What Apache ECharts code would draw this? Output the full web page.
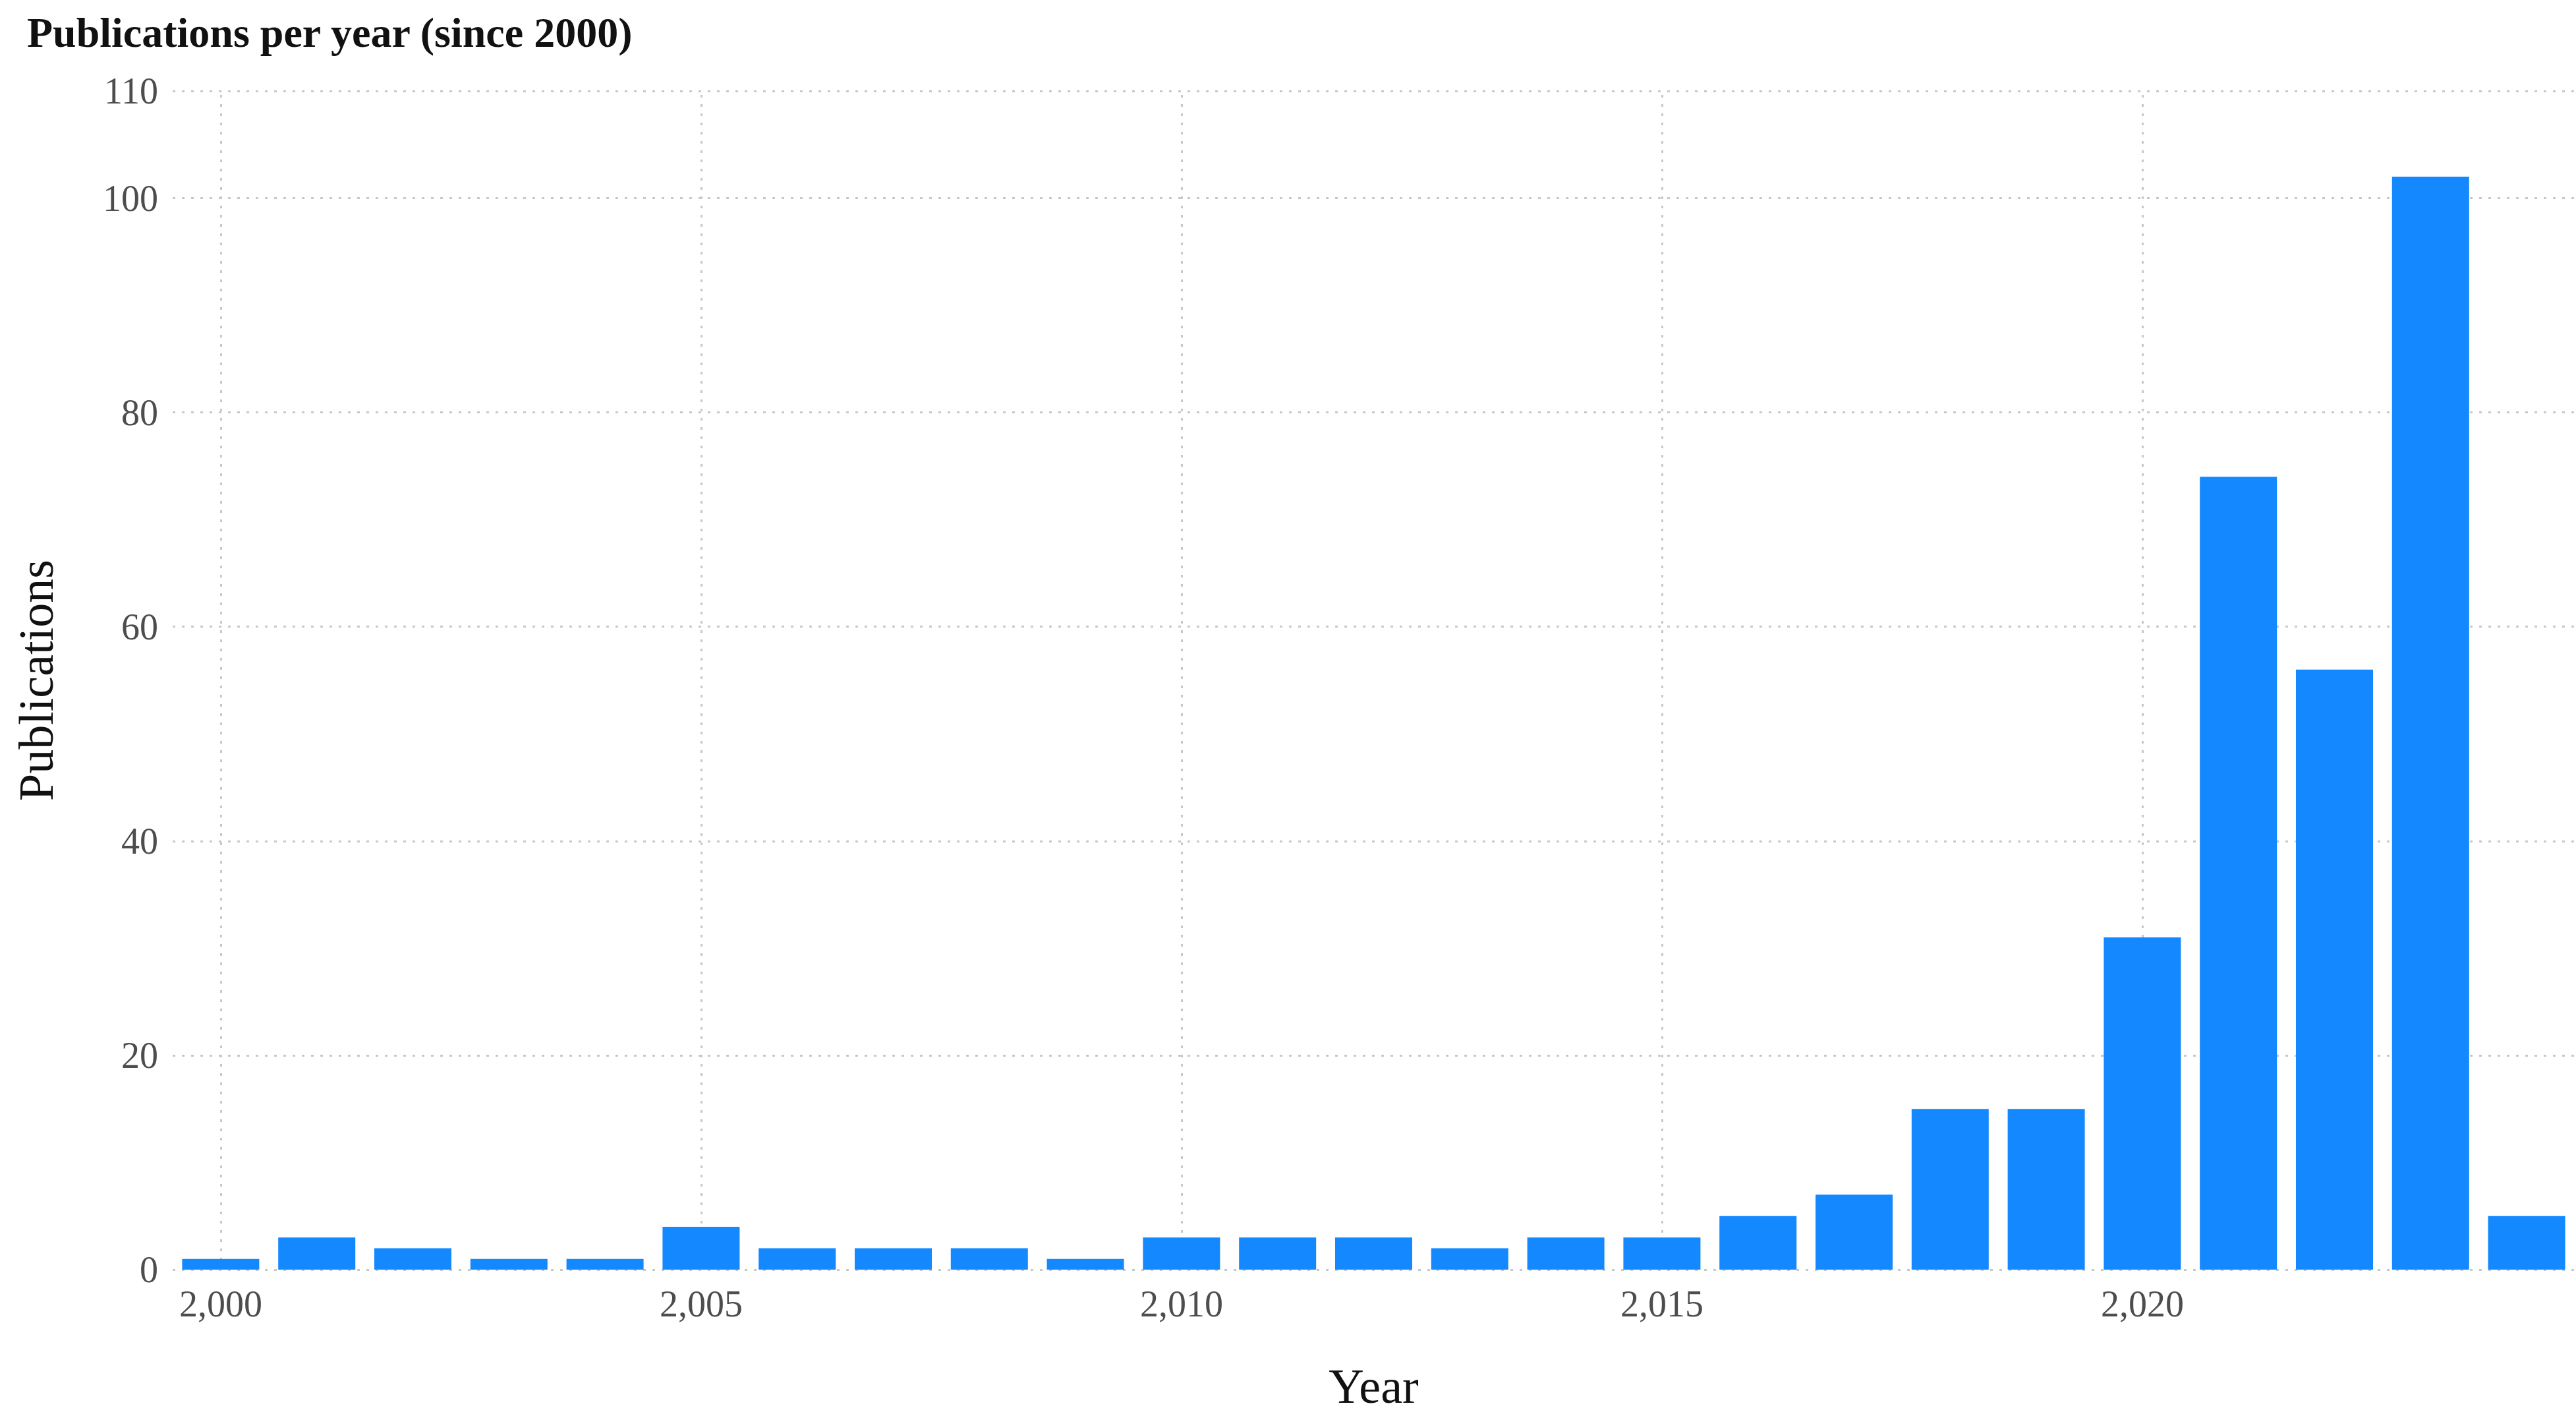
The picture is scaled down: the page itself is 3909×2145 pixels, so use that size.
<!DOCTYPE html>
<html>
<head>
<meta charset="utf-8">
<script src="https://cdn.jsdelivr.net/npm/echarts@6/dist/echarts.min.js"></script>
<style>
  html, body { margin: 0; padding: 0; background: #fff; }
  #chart { width: 3909px; height: 2145px; }
</style>
</head>
<body>
<div id="chart"></div>
<script>
var years = [2000, 2001, 2002, 2003, 2004, 2005, 2006, 2007, 2008, 2009, 2010, 2011, 2012,
             2013, 2014, 2015, 2016, 2017, 2018, 2019, 2020, 2021, 2022, 2023, 2024];
var counts = [1, 3, 2, 1, 1, 4, 2, 2, 2, 1, 3, 3, 3, 2, 3, 3, 5, 7, 15, 15, 31, 74, 56, 102, 5];
var yearTicks = [2000, 2005, 2010, 2015, 2020];

var font = '"Liberation Serif", "DejaVu Serif", serif';
var grey = '#4d4d4d';
var gridCol = '#c8c8c8';

var c = echarts.init(document.getElementById('chart'), null, { renderer: 'svg' });
c.setOption({
  animation: false,
  textStyle: { fontFamily: font },
  title: {
    text: 'Publications per year (since 2000)', left: 36, top: 12,
    textStyle: { fontFamily: font, fontSize: 64, fontWeight: 'bold', color: '#111' }
  },
  grid: { left: 262, right: 2, top: 138, bottom: 183 },
  xAxis: {
    type: 'value', min: 1999.5, max: 2024.5,
    name: 'Year', nameLocation: 'middle', nameGap: 140,
    nameTextStyle: { fontFamily: font, fontSize: 74, color: '#111' },
    axisLine: { show: false }, axisTick: { show: false },
    splitLine: { show: false },
    axisLabel: { customValues: yearTicks, color: grey, fontSize: 56, margin: 24, fontFamily: font }
  },
  yAxis: {
    type: 'value', min: 0, max: 110, interval: 20,
    name: 'Publications', nameLocation: 'middle', nameGap: 170,
    nameTextStyle: { fontFamily: font, fontSize: 74, color: '#111' },
    axisLine: { show: false }, axisTick: { show: false },
    axisLabel: { color: grey, fontSize: 56, margin: 22, fontFamily: font },
    splitLine: { lineStyle: { color: gridCol, type: [4, 10], width: 3 } }
  },
  series: [{
    type: 'bar', barWidth: 117,
    data: years.map(function(y, i) { return [y, counts[i]]; }),
    itemStyle: { color: '#1488FF' },
    z: 3,
    markLine: {
      silent: true, symbol: 'none', z: 1,
      label: { show: false },
      lineStyle: { color: gridCol, type: [4, 10], width: 3 },
      data: yearTicks.map(function(y) { return { xAxis: y }; })
    }
  }]
});
</script>
</body>
</html>
